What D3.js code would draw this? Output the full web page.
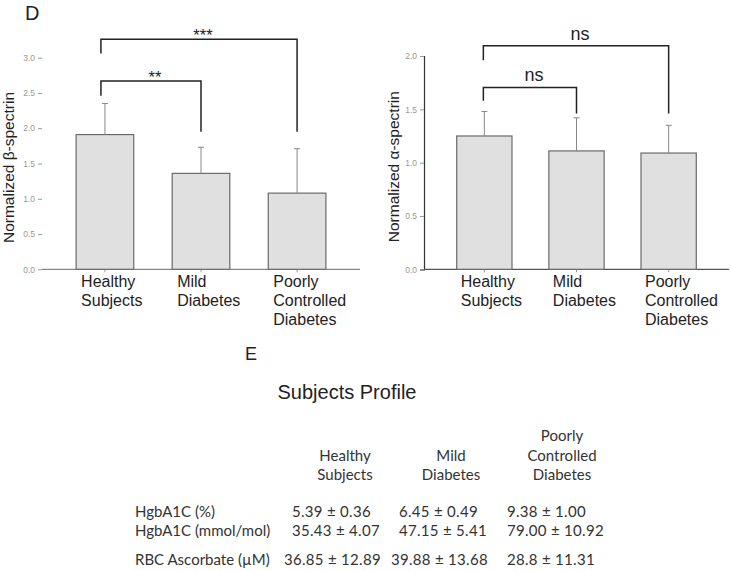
<!DOCTYPE html>
<html>
<head>
<meta charset="utf-8">
<script src="https://cdn.jsdelivr.net/npm/d3@7"></script>
<style>
  body { margin: 0; background: #fff; }
  svg { display: block; }
  .arial { font-family: "Liberation Sans", Arial, Helvetica, sans-serif; }
  .calib { font-family: Lato, "Open Sans", sans-serif; }
</style>
</head>
<body>
<svg id="fig" width="731" height="571"></svg>
<script>

// === Data === //

var categories = ['Healthy Subjects', 'Mild Diabetes', 'Poorly Controlled Diabetes'];
var categoryLines = [['Healthy', 'Subjects'], ['Mild', 'Diabetes'], ['Poorly', 'Controlled', 'Diabetes']];

var betaMean = [1.91, 1.36, 1.08];
var betaErr = [0.44, 0.37, 0.63];
var betaTicks = [0, 0.5, 1, 1.5, 2, 2.5, 3];

var alphaMean = [1.25, 1.11, 1.09];
var alphaErr = [0.23, 0.31, 0.26];
var alphaTicks = [0, 0.5, 1, 1.5, 2];

// significance brackets: from / to category index, bracket height, leg ends (data units)
var betaSig = [
	{ from: 0, to: 1, label: '**', top: 2.67, leftEnd: 2.46, rightEnd: 1.95 },
	{ from: 0, to: 2, label: '***', top: 3.26, leftEnd: 3.06, rightEnd: 1.95 }
];
var alphaSig = [
	{ from: 0, to: 1, label: 'ns', top: 1.705, leftEnd: 1.58, rightEnd: 1.46 },
	{ from: 0, to: 2, label: 'ns', top: 2.095, leftEnd: 1.96, rightEnd: 1.46 }
];

// table
var tableTitle = 'Subjects Profile';
var tableHeaders = [['Healthy', 'Subjects'], ['Mild', 'Diabetes'], ['Poorly', 'Controlled', 'Diabetes']];
var rowLabels = ['HgbA1C (%)', 'HgbA1C (mmol/mol)', 'RBC Ascorbate (\u00b5M)'];
var rowValues = [
	['5.39 \u00b1 0.36', '6.45 \u00b1 0.49', '9.38 \u00b1 1.00'],
	['35.43 \u00b1 4.07', '47.15 \u00b1 5.41', '79.00 \u00b1 10.92'],
	['36.85 \u00b1 12.89', '39.88 \u00b1 13.68', '28.8 \u00b1 11.31']
];


// === Setup === //

var svg = d3.select('#fig');

svg.append('text')
	.attr('class', 'arial')
	.attr('x', 25).attr('y', 20)
	.style('font-size', '20px').style('fill', '#222')
	.text('D');


// === Bar chart === //

function barChart(opts) {

	var g = svg.append('g');

	var x = d3.scaleBand()
		.domain(categories)
		.range(opts.xRange)
		.paddingInner(0.4)
		.paddingOuter(0.355);

	var y = d3.scaleLinear()
		.domain(opts.yDomain)
		.range([269.3, opts.yTop]);

	// y axis
	var yAxis = d3.axisLeft(y).tickValues(opts.ticks).tickFormat(d3.format('.1f')).tickSize(4).tickPadding(3);
	var ya = g.append('g')
		.attr('transform', 'translate(' + opts.xRange[0] + ',0)')
		.call(yAxis);
	ya.attr('font-family', null);
	ya.select('.domain').attr('stroke', opts.yLine ? '#333' : 'none').attr('stroke-width', 1.2);
	ya.selectAll('.tick line').attr('stroke', '#999');
	ya.selectAll('.tick text')
		.attr('class', 'arial')
		.style('font-size', '8.5px').style('fill', '#999');

	// x axis
	var xAxis = d3.axisBottom(x).tickSize(3).tickFormat('');
	var xa = g.append('g')
		.attr('transform', 'translate(0,' + y(0) + ')')
		.call(xAxis);
	xa.select('.domain').attr('stroke', opts.yLine ? '#555' : '#888').attr('stroke-width', 1.2)
		.attr('d', 'M' + opts.xRange[0] + ',0H' + opts.xRange[1]);
	xa.selectAll('.tick line').attr('stroke', '#999');

	// bars
	var data = categories.map(function(c, i) {
		return { cat: c, mean: opts.mean[i], err: opts.err[i], lines: categoryLines[i] };
	});

	g.selectAll('rect.bar')
		.data(data)
		.enter()
		.append('rect')
		.attr('class', 'bar')
		.attr('x', function(d) { return x(d.cat); })
		.attr('y', function(d) { return y(d.mean); })
		.attr('width', x.bandwidth())
		.attr('height', function(d) { return y(0) - y(d.mean); })
		.attr('fill', '#e0e0e0')
		.attr('stroke', '#6a6a6a')
		.attr('stroke-width', 1.2);

	// error bars (upper only)
	var cx = function(d) { return x(d.cat) + x.bandwidth() / 2; };

	g.selectAll('line.err')
		.data(data)
		.enter()
		.append('line')
		.attr('x1', cx).attr('x2', cx)
		.attr('y1', function(d) { return y(d.mean); })
		.attr('y2', function(d) { return y(d.mean + d.err); })
		.attr('stroke', '#888').attr('stroke-width', 1);

	g.selectAll('line.cap')
		.data(data)
		.enter()
		.append('line')
		.attr('x1', function(d) { return cx(d) - 3; })
		.attr('x2', function(d) { return cx(d) + 3; })
		.attr('y1', function(d) { return y(d.mean + d.err); })
		.attr('y2', function(d) { return y(d.mean + d.err); })
		.attr('stroke', '#888').attr('stroke-width', 1);

	// category labels
	var lab = g.selectAll('text.cat')
		.data(data)
		.enter()
		.append('text')
		.attr('class', 'arial')
		.attr('x', function(d) { return x(d.cat) + opts.labelPad; })
		.attr('y', 287)
		.style('font-size', '16px').style('fill', '#222');

	lab.selectAll('tspan')
		.data(function(d) { return d.lines.map(function(l) { return { l: l, x: x(d.cat) + opts.labelPad }; }); })
		.enter()
		.append('tspan')
		.attr('x', function(d) { return d.x; })
		.attr('dy', function(d, i) { return i ? 19 : 0; })
		.text(function(d) { return d.l; });

	// y label
	g.append('text')
		.attr('class', 'arial')
		.attr('transform', 'translate(' + opts.labelX + ',' + ((y.range()[0] + y.range()[1]) / 2 + 4) + ') rotate(-90)')
		.attr('text-anchor', 'middle')
		.style('font-size', '15.5px').style('fill', '#222')
		.text(opts.yLabel);

	// significance brackets
	opts.sig.forEach(function(s) {

		var x1 = x(categories[s.from]) + x.bandwidth() / 2 - opts.bracketShift;
		var x2 = x(categories[s.to]) + x.bandwidth() / 2;

		g.append('path')
			.attr('d', 'M' + x1 + ',' + y(s.leftEnd) + 'V' + y(s.top) + 'H' + x2 + 'V' + y(s.rightEnd))
			.attr('fill', 'none')
			.attr('stroke', '#222')
			.attr('stroke-width', 1.5);

		g.append('text')
			.attr('class', 'arial')
			.attr('x', (x1 + x2) / 2 + 4)
			.attr('y', y(s.top) + opts.sigDy)
			.attr('text-anchor', 'middle')
			.style('font-size', opts.sigSize).style('fill', '#222')
			.text(s.label);

	});

} // barChart()


barChart({
	xRange: [42, 360], yDomain: [0, 3], yTop: 57.7, ticks: betaTicks,
	mean: betaMean, err: betaErr, sig: betaSig, yLine: false,
	yLabel: 'Normalized \u03b2-spectrin', labelX: 14, labelPad: 5,
	bracketShift: 4, sigDy: 2, sigSize: '16.5px'
});

barChart({
	xRange: [424, 729], yDomain: [0, 2], yTop: 56, ticks: alphaTicks,
	mean: alphaMean, err: alphaErr, sig: alphaSig, yLine: true,
	yLabel: 'Normalized \u03b1-spectrin', labelX: 399, labelPad: 4,
	bracketShift: 1, sigDy: -6, sigSize: '18px'
});


// === Table (panel E) === //

svg.append('text')
	.attr('class', 'arial')
	.attr('x', 245).attr('y', 360)
	.style('font-size', '18px').style('fill', '#222')
	.text('E');

svg.append('text')
	.attr('class', 'arial')
	.attr('x', 347).attr('y', 399)
	.attr('text-anchor', 'middle')
	.style('font-size', '20px').style('fill', '#222')
	.text(tableTitle);

var headCenters = [345, 451, 562];
var valueStarts = [292, 399, 507];
var rowBase = [516.7, 535.5, 565];
var lineGap = 19.3;

var tg = svg.append('g')
	.attr('class', 'calib')
	.style('font-size', '15px').style('fill', '#333');

tableHeaders.forEach(function(h, i) {
	h.forEach(function(l, j) {
		tg.append('text')
			.attr('x', headCenters[i])
			.attr('y', 480 - (h.length - 1 - j) * lineGap)
			.attr('text-anchor', 'middle')
			.text(l);
	});
});

rowLabels.forEach(function(l, r) {
	tg.append('text').attr('x', 135).attr('y', rowBase[r]).text(l);
	rowValues[r].forEach(function(v, c) {
		var shift = (r === 2 && c < 2) ? -8 : 0;
		tg.append('text').attr('x', valueStarts[c] + shift).attr('y', rowBase[r]).attr('letter-spacing', 0.3).text(v);
	});
});

</script>
</body>
</html>
